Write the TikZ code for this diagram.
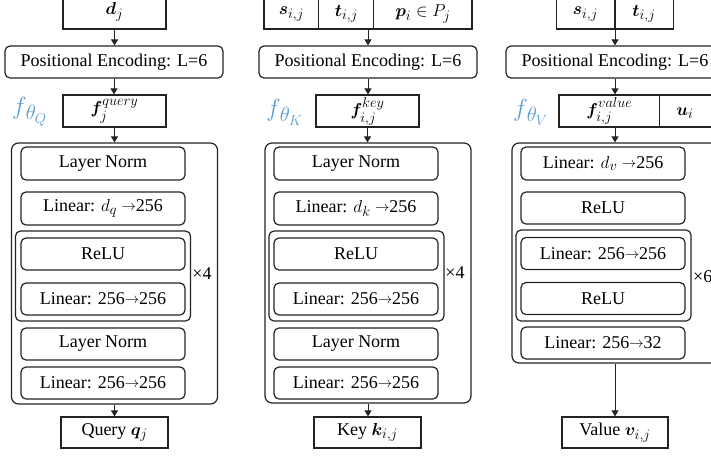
\documentclass[tikz,border=0pt]{standalone}
\usepackage{amsmath}
\usepackage{bm}
\usepackage{fontspec}
\setmainfont{Liberation Serif}
\newfontfamily\labelserif{Liberation Serif}
\DeclareMathSizes{18}{18}{14}{10}
\usetikzlibrary{arrows.meta}
\definecolor{ink}{RGB}{35,35,35}
\definecolor{flabel}{RGB}{91,155,213}
% thin text arrow used in the layer sizes
\newcommand\sizearrow{\raisebox{1.2pt}{\fontsize{14}{14}\selectfont$\rightarrow$}}
% network symbol f_theta with an enlarged subscript
\newcommand\netsym[1]{{\fontsize{25}{25}\selectfont$f$}\kern-1pt\raisebox{-5pt}{\fontsize{20}{20}\selectfont$\theta$}\kern-1pt\raisebox{-9pt}{\fontsize{15}{15}\selectfont$#1$}}
% feature symbol with separated super- and subscript
\newcommand\feat[2]{$\bm{f}^{\raisebox{2pt}{$\scriptstyle #1$}}_{\raisebox{-1.5pt}{$\scriptstyle #2$}}$}
\tikzset{
  blk/.style={draw=ink, line width=1.2pt, rounded corners=5pt, inner sep=0pt, minimum height=33pt},
  layer/.style={blk, minimum width=164pt},
  loopbox/.style={blk, minimum width=175pt},
  netbox/.style={blk, rounded corners=7pt, minimum width=206pt},
  pebox/.style={blk, minimum width=218pt, minimum height=32pt},
  sq/.style={draw=ink, line width=1.2pt, inner sep=0pt, minimum height=32pt},
  flab/.style={text=flabel, anchor=west, inner sep=0pt},
  arr/.style={draw=ink, line width=0.9pt, -{Triangle[width=7pt,length=6pt]}},
  divider/.style={draw=ink, line width=1.2pt},
}
\begin{document}
\begin{tikzpicture}[x=1pt, y=-1pt, font=\labelserif\fontsize{18}{20}\selectfont]
\path[use as bounding box, clip] (0,0) rectangle (711,456);

% ---------------- query branch ----------------
\node[sq, minimum width=103pt, minimum height=34pt] (qin) at (114.5,12) {$\bm{d}_j$};
\node[pebox] (qpe) at (114,62) {Positional Encoding: L=6};
\node[sq, minimum width=103pt] (qf) at (114.5,111) {\feat{query}{j}};
\node[flab] (qlab) at (12,112) {\netsym{Q}};
\node[netbox, minimum height=261pt] (qnet) at (114.5,273.5) {};
\node[layer] (qln1) at (103,163.5) {Layer Norm};
\node[layer] (qlin1) at (103,208.5) {Linear: $d_q$ \sizearrow256};
\node[loopbox, minimum height=90pt] (qloop) at (103,276) {};
\node[layer, minimum height=32pt] (qrelu) at (103,254) {ReLU};
\node[layer, minimum height=32pt] (qlin2) at (103,299) {Linear: 256\sizearrow256};
\node[inner sep=0pt] (qrep) at (202,274) {×4};
\node[layer, minimum height=32pt] (qln2) at (103,344) {Layer Norm};
\node[layer, minimum height=32pt] (qlin3) at (103,383) {Linear: 256\sizearrow256};
\node[sq, minimum width=107pt, minimum height=31pt] (qout) at (114.5,432.5) {Query $\bm{q}_j$};
\draw[arr] (qin.south) -- (qin.south |- qpe.north);
\draw[arr] (qpe.south) -- (qpe.south |- qf.north);
\draw[arr] (qf.south) -- (qf.south |- qnet.north);
\draw[arr] (qnet.south) -- (qnet.south |- qout.north);

% ---------------- key branch ----------------
\node[sq, minimum width=208pt, minimum height=34pt] (kin) at (368,12) {};
\draw[divider] ([xshift=55pt]kin.north west) -- ([xshift=55pt]kin.south west);
\draw[divider] ([xshift=110pt]kin.north west) -- ([xshift=110pt]kin.south west);
\node (ks) at (291.5,14) {$\bm{s}_{i,j}$};
\node (kt) at (346.5,14) {$\bm{t}_{i,j}$};
\node (kp) at (423,14) {$\bm{p}_i \in P_j$};
\node[pebox] (kpe) at (368,62) {Positional Encoding: L=6};
\node[sq, minimum width=103pt] (kf) at (367.5,111) {\feat{key}{i,j}};
\node[flab] (klab) at (266,112) {\netsym{K}};
\node[netbox, minimum height=260pt] (knet) at (368,273) {};
\node[layer] (kln1) at (356,163.5) {Layer Norm};
\node[layer] (klin1) at (356,208.5) {Linear: $d_k$ \sizearrow256};
\node[loopbox, minimum height=90pt] (kloop) at (356.5,276) {};
\node[layer, minimum height=32pt] (krelu) at (356,254) {ReLU};
\node[layer, minimum height=32pt] (klin2) at (356,299) {Linear: 256\sizearrow256};
\node[inner sep=0pt] (krep) at (455,273) {×4};
\node[layer, minimum height=32pt] (kln2) at (356,344) {Layer Norm};
\node[layer, minimum height=32pt] (klin3) at (356,383) {Linear: 256\sizearrow256};
\node[sq, minimum width=107pt, minimum height=31pt] (kout) at (367.5,432.5) {Key $\bm{k}_{i,j}$};
\draw[arr] (kin.south) -- (kin.south |- kpe.north);
\draw[arr] (kpe.south) -- (kpe.south |- kf.north);
\draw[arr] (kf.south) -- (kf.south |- knet.north);
\draw[arr] (knet.south) -- (knet.south |- kout.north);

% ---------------- value branch ----------------
\node[sq, minimum width=117pt, minimum height=34pt] (vin) at (615,12) {};
\draw[divider] (vin.north) -- (vin.south);
\node (vs) at (585.5,14) {$\bm{s}_{i,j}$};
\node (vt) at (644,14) {$\bm{t}_{i,j}$};
\node[pebox] (vpe) at (615,62) {Positional Encoding: L=6};
\node[sq, minimum width=153pt] (vf) at (635.5,111) {};
\draw[divider] ([xshift=101pt]vf.north west) -- ([xshift=101pt]vf.south west);
\node (vfv) at (609.5,111) {\feat{value}{i,j}};
\node (vu) at (685,113) {$\bm{u}_i$};
\node[flab] (vlab) at (513,112) {\netsym{V}};
\node[netbox, minimum height=220pt] (vnet) at (615,253) {};
\node[layer] (vlin1) at (603,163.5) {Linear: $d_v$ \sizearrow256};
\node[layer, minimum height=32pt] (vrelu1) at (603,208) {ReLU};
\node[loopbox, minimum height=91pt] (vloop) at (603.5,275.5) {};
\node[layer, minimum height=32pt] (vlin2) at (603,253.5) {Linear: 256\sizearrow256};
\node[layer, minimum height=32pt] (vrelu2) at (603,298.5) {ReLU};
\node[inner sep=0pt, anchor=west] (vrep) at (693,277) {×6};
\node[layer, minimum height=32pt] (vlin3) at (603,343) {Linear: 256\sizearrow32};
\node[sq, minimum width=106pt, minimum height=31pt] (vout) at (615,432.5) {Value $\bm{v}_{i,j}$};
\draw[arr] (vin.south) -- (vin.south |- vpe.north);
\draw[arr] (vpe.south) -- (vpe.south |- vf.north);
\draw[arr] (vpe.south |- vf.south) -- (vpe.south |- vnet.north);
\draw[arr] (vnet.south) -- (vnet.south |- vout.north);
\end{tikzpicture}
\end{document}
